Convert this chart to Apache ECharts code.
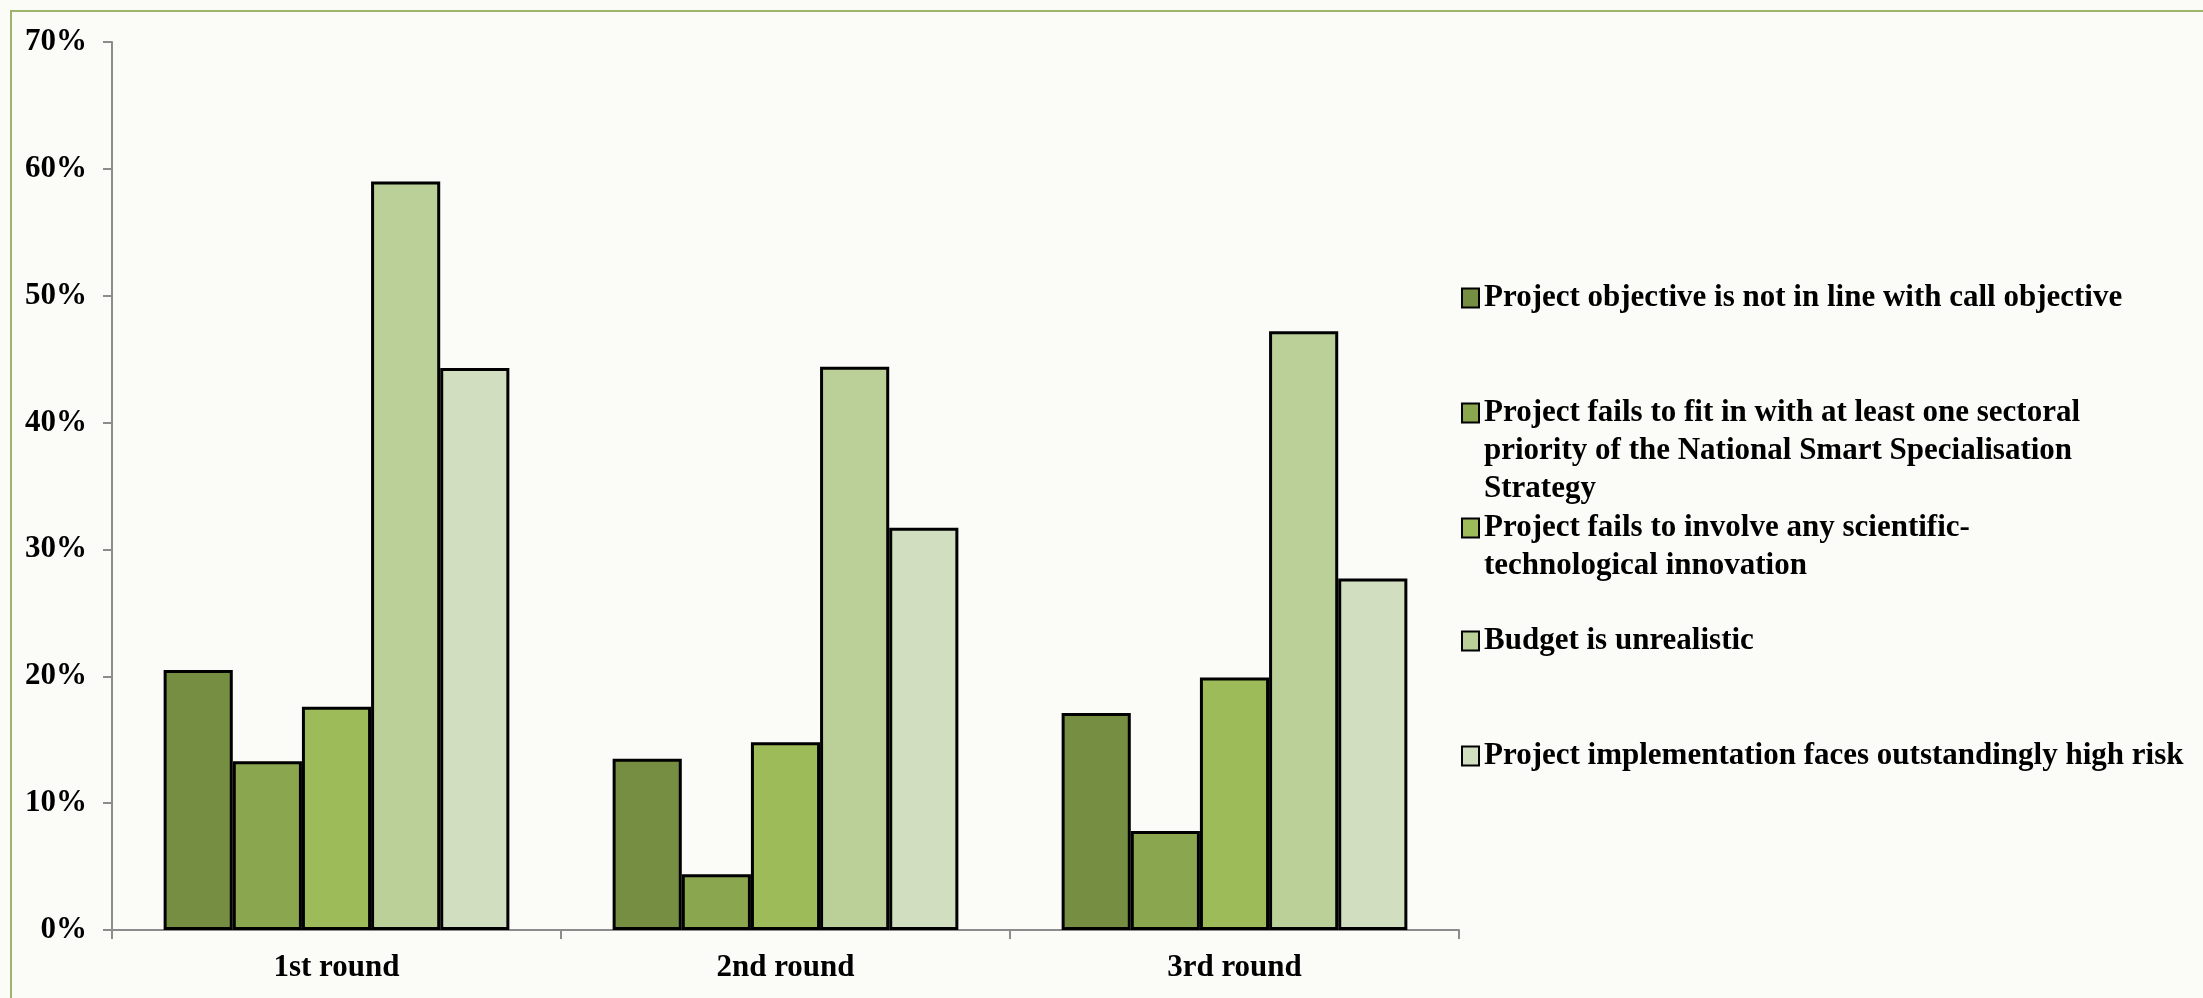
<!DOCTYPE html>
<html>
<head>
<meta charset="utf-8">
<script src="https://cdn.jsdelivr.net/npm/echarts@6/dist/echarts.min.js"></script>
<style>
html,body{margin:0;padding:0;background:#FBFCF7;}
#c{width:2203px;height:998px;}
</style>
</head>
<body>
<div id="c"></div>
<script>
const categories = ['1st round', '2nd round', '3rd round'];
const seriesNames = [
  'Project objective is not in line with call objective',
  'Project fails to fit in with at least one sectoral\npriority of the National Smart Specialisation\nStrategy',
  'Project fails to involve any scientific-\ntechnological innovation',
  'Budget is unrealistic',
  'Project implementation faces outstandingly high risk'
];
const objectiveMismatch = [20.5, 13.5, 17.1];
const noSectoralFit = [13.3, 4.4, 7.8];
const noInnovation = [17.6, 14.8, 19.9];
const unrealisticBudget = [59.0, 44.4, 47.2];
const highRisk = [44.3, 31.7, 27.7];
const seriesValues = [objectiveMismatch, noSectoralFit, noInnovation, unrealisticBudget, highRisk];
const yMin = 0, yMax = 70, yInterval = 10;

const colors = ['#768E42', '#8AA64E', '#9DBB59', '#BBCF98', '#D1DEC0'];
const FONT = 'Liberation Serif';
const LH = 38;
const legendCenters = [298, 413, 528, 641, 756];

const chart = echarts.init(document.getElementById('c'), null, {renderer: 'canvas'});

const legends = seriesNames.map((name, i) => {
  const n = name.split('\n').length;
  return {
    data: [name],
    orient: 'vertical',
    left: 1461,
    top: legendCenters[i] - (2 * n - 1) * LH / 2,
    padding: 0,
    itemWidth: 17,
    itemHeight: 19,
    itemGap: 0,
    selectedMode: false,
    icon: 'rect',
    itemStyle: {borderColor: '#000', borderWidth: 2},
    formatter: (nm) => '\n'.repeat(n - 1) + nm,
    textStyle: {
      fontFamily: FONT, fontWeight: 'bold', fontSize: 31, color: '#000',
      lineHeight: LH,
      backgroundColor: 'rgba(0,0,0,0)'
    }
  };
});

const axisColor = '#8C8C8C';

chart.setOption({
  backgroundColor: '#FBFCF7',
  animation: false,
  graphic: [{
    type: 'rect', silent: true, z: -10,
    shape: {x: 11, y: 11, width: 2400, height: 1200},
    style: {fill: 'none', stroke: '#9CB46C', lineWidth: 2}
  }],
  grid: {left: 112, right: 744, top: 42, bottom: 68, containLabel: false},
  legend: legends,
  xAxis: {
    type: 'category',
    data: categories,
    axisLine: {lineStyle: {color: axisColor, width: 2}},
    axisTick: {show: true, length: 9, lineStyle: {color: axisColor, width: 2}},
    axisLabel: {fontFamily: FONT, fontWeight: 'bold', fontSize: 31, color: '#000', margin: 22}
  },
  yAxis: {
    type: 'value',
    min: yMin, max: yMax, interval: yInterval,
    axisLine: {show: true, lineStyle: {color: axisColor, width: 2}},
    axisTick: {show: true, length: 9, lineStyle: {color: axisColor, width: 2}},
    splitLine: {show: false},
    axisLabel: {formatter: '{value}%', fontFamily: FONT, fontWeight: 'bold', fontSize: 31, color: '#000', margin: 25}
  },
  series: seriesNames.map((name, i) => ({
    name: name,
    type: 'bar',
    data: seriesValues[i],
    barGap: '0%',
    barCategoryGap: '23%',
    itemStyle: {color: colors[i], borderColor: '#000', borderWidth: 3}
  }))
});
</script>
</body>
</html>
